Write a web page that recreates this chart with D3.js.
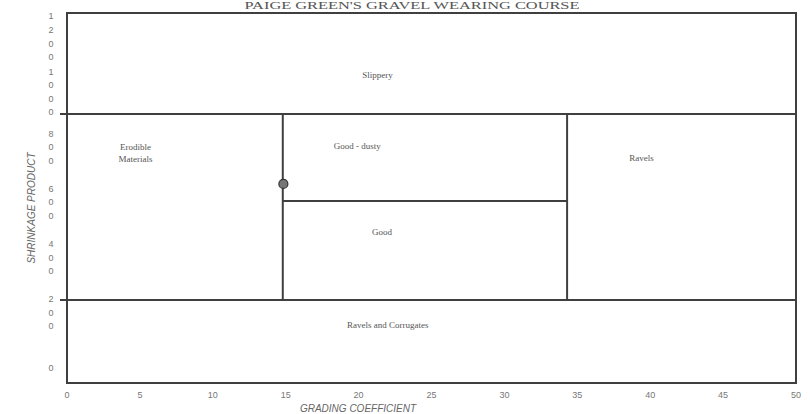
<!DOCTYPE html>
<html>
<head>
<meta charset="utf-8">
<script src="https://cdn.jsdelivr.net/npm/d3@7"></script>
<style>
body { margin: 0; background: #fff; }
svg { display: block; }
</style>
</head>
<body>
<div id="chart"></div>
<script>
// grading coefficient ticks, shrinkage product ticks
var xTicks = [0, 5, 10, 15, 20, 25, 30, 35, 40, 45, 50];
var yTicks = [0, 200, 400, 600, 800, 1000, 1200];
var xDomain = [0, 50];
var yDomain = [-54, 1286];

// boundary lines (grading coefficient / shrinkage product)
var spLines = [
	{ sp: 920, from: 0, to: 50 },
	{ sp: 605, from: 14.8, to: 34.3 },
	{ sp: 247, from: 0, to: 50 }
];
var gcLines = [
	{ gc: 14.8, from: 247, to: 920 },
	{ gc: 34.3, from: 247, to: 920 }
];

var regions = [
	{ name: ["Slippery"], gc: 21.3, sp: 1061 },
	{ name: ["Erodible", "Materials"], gc: 4.7, sp: 779 },
	{ name: ["Good - dusty"], gc: 19.9, sp: 804 },
	{ name: ["Ravels"], gc: 39.4, sp: 761 },
	{ name: ["Good"], gc: 21.6, sp: 493 },
	{ name: ["Ravels and Corrugates"], gc: 22.0, sp: 156 }
];

var points = [{ gc: 14.84, sp: 667 }];

var W = 810, H = 414;
var margin = { left: 67, right: 14, top: 13, bottom: 31 };
var lineCol = "#3f3f3f";

var svg = d3.select("#chart").append("svg")
	.attr("width", W)
	.attr("height", H);

var x = d3.scaleLinear().domain(xDomain).range([margin.left, W - margin.right]);
var y = d3.scaleLinear().domain(yDomain).range([H - margin.bottom, margin.top]);

// title, squeezed into the strip above the frame
svg.append("text")
	.attr("x", 412)
	.attr("y", 9)
	.attr("text-anchor", "middle")
	.attr("font-family", "Liberation Serif, Times New Roman, serif")
	.attr("font-size", 10)
	.attr("fill", "#555")
	.attr("textLength", 335)
	.attr("lengthAdjust", "spacingAndGlyphs")
	.text("PAIGE GREEN'S GRAVEL WEARING COURSE");

// plot frame
svg.append("rect")
	.attr("x", x(xDomain[0]))
	.attr("y", y(yDomain[1]))
	.attr("width", x(xDomain[1]) - x(xDomain[0]))
	.attr("height", y(yDomain[0]) - y(yDomain[1]))
	.attr("fill", "none")
	.attr("stroke", lineCol)
	.attr("stroke-width", 2);

// horizontal boundaries (the full ones poke out left of the frame)
svg.selectAll(".spline")
	.data(spLines)
	.enter().append("line")
	.attr("class", "spline")
	.attr("x1", (d) => { return d.from === xDomain[0] ? x(d.from) - 7 : x(d.from); })
	.attr("x2", (d) => { return x(d.to); })
	.attr("y1", (d) => { return y(d.sp); })
	.attr("y2", (d) => { return y(d.sp); })
	.attr("stroke", lineCol)
	.attr("stroke-width", 2);

svg.selectAll(".gcline")
	.data(gcLines)
	.enter().append("line")
	.attr("class", "gcline")
	.attr("x1", (d) => { return x(d.gc); })
	.attr("x2", (d) => { return x(d.gc); })
	.attr("y1", (d) => { return y(d.from); })
	.attr("y2", (d) => { return y(d.to); })
	.attr("stroke", lineCol)
	.attr("stroke-width", 2);

// region names
var lbl = svg.selectAll(".region")
	.data(regions)
	.enter().append("text")
	.attr("class", "region")
	.attr("text-anchor", "middle")
	.attr("font-family", "Liberation Serif, Times New Roman, serif")
	.attr("font-size", 9)
	.attr("fill", "#555");

lbl.each(function(d) {
	var t = d3.select(this);
	var n = d.name.length;
	d.name.forEach(function(s, i) {
		t.append("tspan")
			.attr("x", x(d.gc))
			.attr("y", y(d.sp) + 3 + (i - (n - 1) / 2) * 12)
			.text(s);
	});
});

// the dot
svg.selectAll(".pt")
	.data(points)
	.enter().append("circle")
	.attr("class", "pt")
	.attr("cx", (d) => { return x(d.gc); })
	.attr("cy", (d) => { return y(d.sp); })
	.attr("r", 4.5)
	.attr("fill", "#777")
	.attr("stroke", "#333")
	.attr("stroke-width", 1.2);

// x tick labels
svg.selectAll(".xt")
	.data(xTicks)
	.enter().append("text")
	.attr("class", "xt")
	.attr("x", (d) => { return x(d); })
	.attr("y", H - margin.bottom + 15)
	.attr("text-anchor", "middle")
	.attr("font-family", "Liberation Sans, Arial, sans-serif")
	.attr("font-size", 9)
	.attr("fill", "#777")
	.text((d) => { return d; });

// y tick labels, digits stacked on top of each other
var yt = svg.selectAll(".yt")
	.data(yTicks)
	.enter().append("text")
	.attr("class", "yt")
	.attr("text-anchor", "middle")
	.attr("font-family", "Liberation Sans, Arial, sans-serif")
	.attr("font-size", 9)
	.attr("fill", "#777");

yt.each(function(d) {
	var t = d3.select(this);
	var digits = String(d).split("");
	var n = digits.length;
	digits.forEach(function(c, i) {
		t.append("tspan")
			.attr("x", 51)
			.attr("y", y(d) + 3 + (i - (n - 1) / 2) * 13.6)
			.text(c);
	});
});

// axis titles
svg.append("text")
	.attr("transform", "translate(35," + ((margin.top + H - margin.bottom) / 2 + 10) + ") rotate(-90)")
	.attr("text-anchor", "middle")
	.attr("font-family", "Liberation Sans, Arial, sans-serif")
	.attr("font-style", "italic")
	.attr("font-size", 10)
	.attr("fill", "#666")
	.text("SHRINKAGE PRODUCT");

svg.append("text")
	.attr("x", 358)
	.attr("y", H - 2)
	.attr("text-anchor", "middle")
	.attr("font-family", "Liberation Sans, Arial, sans-serif")
	.attr("font-style", "italic")
	.attr("font-size", 10)
	.attr("fill", "#666")
	.text("GRADING COEFFICIENT");
</script>
</body>
</html>
